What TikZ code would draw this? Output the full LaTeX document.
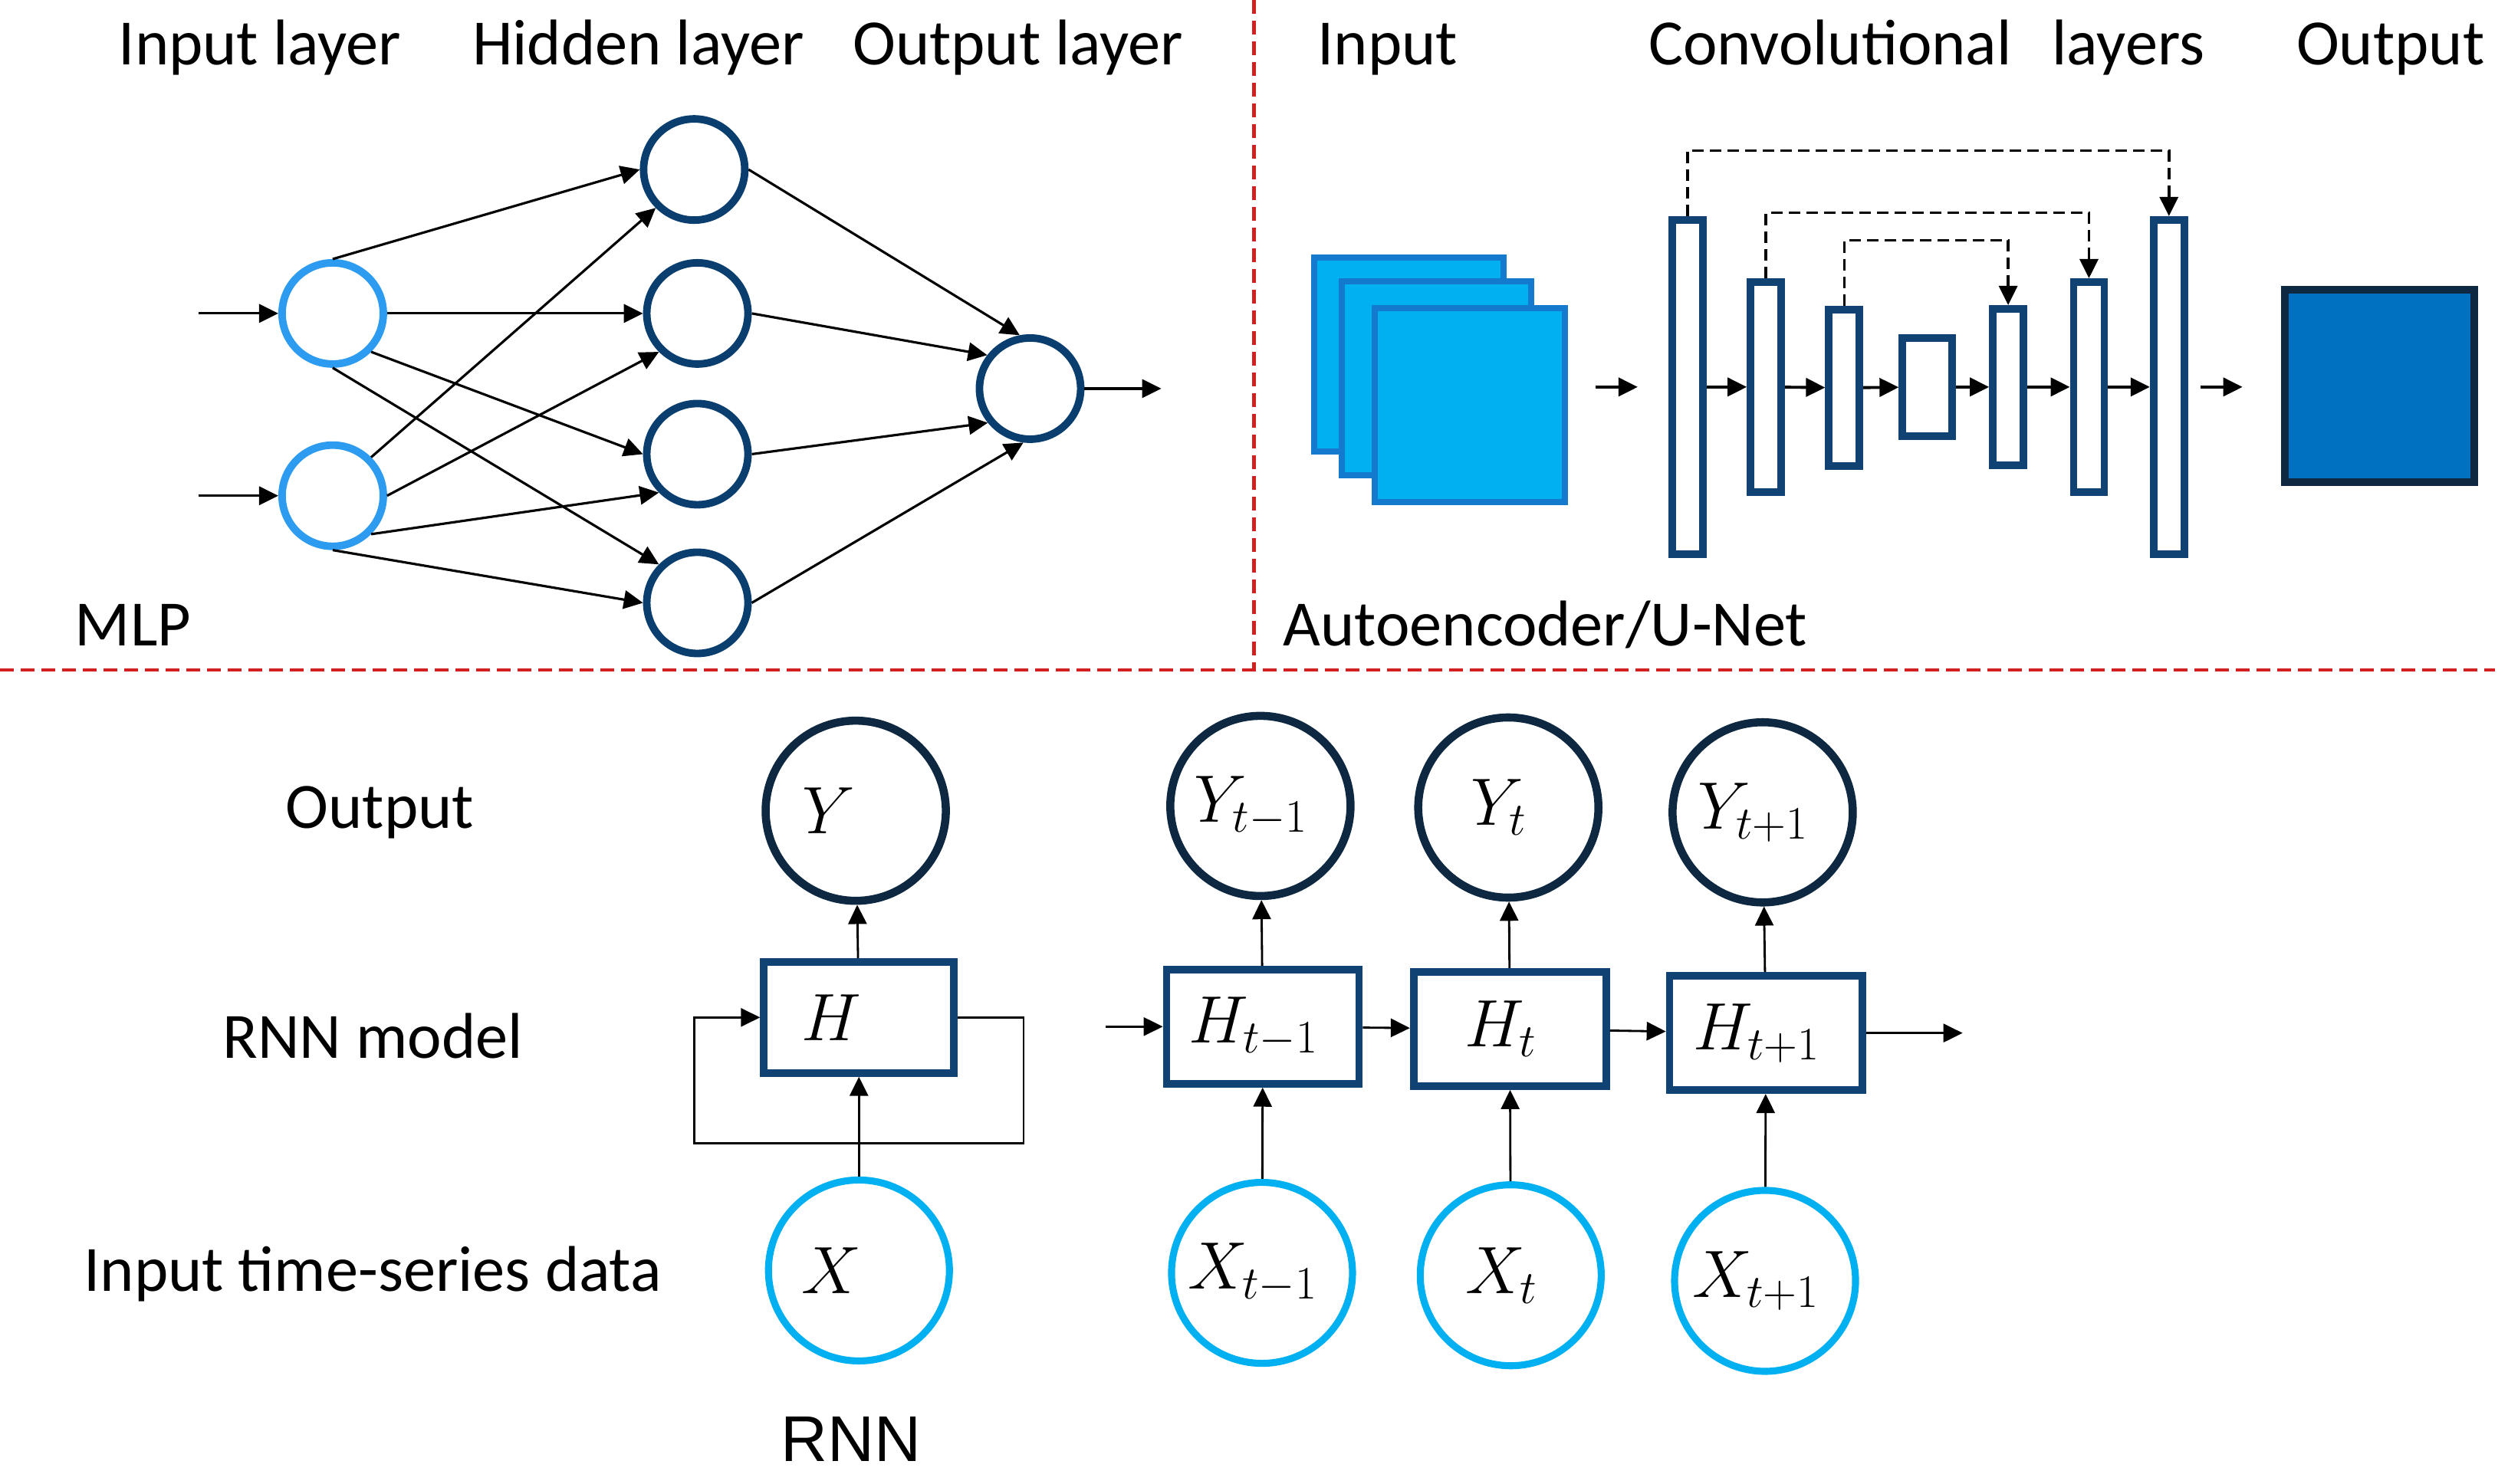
\documentclass[tikz,border=0pt]{standalone}
\usepackage{fontspec}
\setmainfont{Carlito}
\newfontfamily\arialf{Liberation Sans}
\DeclareMathSizes{24.88}{24.88}{19}{15}
\usetikzlibrary{arrows.meta}
\definecolor{inblue}{RGB}{45,155,240}
\definecolor{hidblue}{RGB}{10,62,110}
\definecolor{navy}{RGB}{14,40,65}
\definecolor{barblue}{RGB}{16,66,115}
\definecolor{cyanx}{RGB}{0,176,240}
\definecolor{cyanborder}{RGB}{20,122,205}
\definecolor{outfill}{RGB}{0,112,192}
\definecolor{redline}{RGB}{210,32,32}
\newcommand{\padA}{\rule{0.71cm}{0pt}}
\newcommand{\padB}{\rule{0.24cm}{0pt}}
\tikzset{
  txt/.style={font=\fontsize{24}{29}\selectfont, inner sep=0pt, anchor=base},
  mth/.style={font=\fontsize{24.88}{30}\selectfont},
  tip/.style={-{Triangle[length=0.25cm,width=0.24cm]}},
  arr/.style={tip, line width=0.9pt},
  aearr/.style={tip, line width=1.1pt},
  rarr/.style={tip, line width=0.8pt},
  loopline/.style={tip, line width=0.7pt},
  skip/.style={tip, line width=1pt, dash pattern=on 0.15cm off 0.08cm},
  reddash/.style={draw=redline, line width=1.2pt, dash pattern=on 0.18cm off 0.09cm},
  mlpin/.style={circle, draw=inblue, line width=2.8pt, minimum size=1.32cm, inner sep=0pt},
  mlphid/.style={circle, draw=hidblue, line width=2.8pt, minimum size=1.32cm, inner sep=0pt},
  ycirc/.style={circle, draw=navy, line width=3pt, minimum size=2.35cm, inner sep=0pt, mth},
  xcirc/.style={circle, draw=cyanx, line width=2.6pt, minimum size=2.36cm, inner sep=0pt, mth},
  hbox/.style={rectangle, draw=barblue, line width=2.8pt, fill=white, inner sep=0pt, mth},
  bar/.style={rectangle, draw=barblue, line width=2.8pt, fill=white, inner sep=0pt, minimum width=0.4cm},
  inrect/.style={rectangle, draw=cyanborder, fill=cyanx, line width=2.3pt, inner sep=0pt, minimum width=2.475cm, minimum height=2.53cm},
  outrect/.style={rectangle, draw=navy, fill=outfill, line width=2.8pt, inner sep=0pt, minimum width=2.47cm, minimum height=2.51cm}
}
\begin{document}
\begin{tikzpicture}[x=0.020861cm,y=-0.020861cm]
\useasboundingbox (0,0) rectangle (1568,928);

% ---------- titles ----------
\node[txt] (t1) at (162.5,40.5) {Input layer};
\node[txt] (t2) at (399,40.5) {Hidden layer};
\node[txt] (t3) at (636.5,40.5) {Output layer};
\node[txt] (t4) at (867.5,40.5) {Input};
\node[txt] (t5) at (1204.5,40.5) {Convolutional\hspace{0.63em}layers};
\node[txt] (t6) at (1494.5,40.5) {Output};
\node[txt,anchor=base west] (mlp) at (46.6,404) {MLP};
\node[txt,anchor=base west] (ae) at (802,404) {Autoencoder/U-Net};

% ---------- dividers ----------
\draw[reddash] (784,0) -- (784,418);
\draw[reddash] (0,419) -- (1560,419);

% ---------- MLP ----------
\node[mlpin] (i1) at (208,196) {};
\node[mlpin] (i2) at (208,310) {};
\node[mlphid] (h1) at (434,106) {};
\node[mlphid] (h2) at (436,196) {};
\node[mlphid] (h3) at (436,284) {};
\node[mlphid] (h4) at (436,377) {};
\node[mlphid] (o1) at (644,243) {};
\coordinate (a1) at (124,196);
\coordinate (a2) at (124,310);
\coordinate (a3) at (726,243);
\draw[arr] (a1) -- (i1.west);
\draw[arr] (a2) -- (i2.west);
\draw[arr] (o1.east) -- (a3);

\draw[arr] (i1.north) -- (h1.west);
\draw[arr] (i1.east) -- (h2.west);
\draw[arr] (i1.-45) -- (h3.west);
\draw[arr] (i1.south) -- (h4.135);
\draw[arr] (i2.45) -- (h1.-135);
\draw[arr] (i2.east) -- (h2.-135);
\draw[arr] (i2.-45) -- (h3.-135);
\draw[arr] (i2.south) -- (h4.west);

\draw[arr] (h1.east) -- (o1.101);
\draw[arr] (h2.east) -- (o1.142);
\draw[arr] (h3.east) -- (o1.-141);
\draw[arr] (h4.east) -- (o1.-97);

% ---------- Autoencoder / U-Net ----------
\node[inrect] (r1) at (880.75,221.5) {};
\node[inrect] (r2) at (898,236.5) {};
\node[inrect] (r3) at (919,253.5) {};

\node[bar, minimum height=4.36cm] (b1) at (1055,242) {};
\node[bar, minimum height=2.74cm] (b2) at (1104,242) {};
\node[bar, minimum height=2.04cm] (b3) at (1153,242.5) {};
\node[bar, minimum width=0.65cm, minimum height=1.28cm] (b4) at (1205,242) {};
\node[bar, minimum height=2.04cm] (b5) at (1255.5,242) {};
\node[bar, minimum height=2.74cm] (b6) at (1306,242) {};
\node[bar, minimum height=4.36cm] (b7) at (1356,242) {};

\node[outrect] (ro) at (1487.5,241.5) {};

\draw[aearr, shorten <=0.365cm, shorten >=0.40cm] (r3.east |- b1.west) -- (b1.west);
\draw[aearr] (b1) -- (b2);
\draw[aearr] (b2) -- (b3);
\draw[aearr] (b3) -- (b4);
\draw[aearr] (b4) -- (b5);
\draw[aearr] (b5) -- (b6);
\draw[aearr] (b6) -- (b7);
\draw[aearr, shorten <=0.167cm, shorten >=0.50cm] (b7.east) -- (ro.west |- b7.east);

\draw[skip] (b1.north) -- ++(0,-41) -| (b7.north);
\draw[skip] (b2.north) -- ++(0,-41) -| (b6.north);
\draw[skip] (b3.north) -- ++(0,-41) -| (b5.north);

% ---------- RNN ----------
\node[txt] (lo) at (237.5,518) {Output};
\node[txt] (lm) at (233,661.7) {RNN model};
\node[txt] (li) at (233,807.6) {Input time-series data};
\node[txt, font=\arialf\fontsize{24}{29}\selectfont] (lr) at (532,914) {RNN};

\node[ycirc] (Y) at (535,507) {$Y$\padA};
\node[hbox, minimum width=2.48cm, minimum height=1.45cm] (H) at (537,636.25) {$H$\padA};
\node[xcirc] (X) at (537,794.5) {$X$\padA};
\draw[rarr] (X) -- (H);
\draw[rarr] (H) -- (Y);
\coordinate (lpr) at (640,715);
\coordinate (lpl) at (434,715);
\draw[loopline] (H.east) -| (lpr) -- (lpl) |- (H.west);

\node[ycirc] (Ym) at (788,504) {$Y_{t-1}$\padB};
\node[ycirc] (Y0) at (943,505) {$Y_{t}$\padB};
\node[ycirc] (Yp) at (1102,508) {$Y_{t+1}$\padB};
\node[hbox, minimum width=2.51cm, minimum height=1.49cm] (Hm) at (789.5,642) {$H_{t-1}$\padB};
\node[hbox, minimum width=2.51cm, minimum height=1.49cm] (H0) at (944,643.5) {$H_{t}$\padB};
\node[hbox, minimum width=2.51cm, minimum height=1.49cm] (Hp) at (1104,646) {$H_{t+1}$\padB};
\node[xcirc] (Xm) at (789,796) {$X_{t-1}$\padB};
\node[xcirc] (X0) at (944.5,797.5) {$X_{t}$\padB};
\node[xcirc] (Xp) at (1103.5,801) {$X_{t+1}$\padB};

\coordinate (hin) at (691,642);
\coordinate (hout) at (1227,646);
\draw[rarr] (hin) -- (Hm.west);
\draw[rarr] (Hm) -- (H0);
\draw[rarr] (H0) -- (Hp);
\draw[rarr] (Hp.east) -- (hout);
\draw[rarr] (Xm) -- (Hm);
\draw[rarr] (X0) -- (H0);
\draw[rarr] (Xp) -- (Hp);
\draw[rarr] (Hm) -- (Ym);
\draw[rarr] (H0) -- (Y0);
\draw[rarr] (Hp) -- (Yp);
\end{tikzpicture}
\end{document}
